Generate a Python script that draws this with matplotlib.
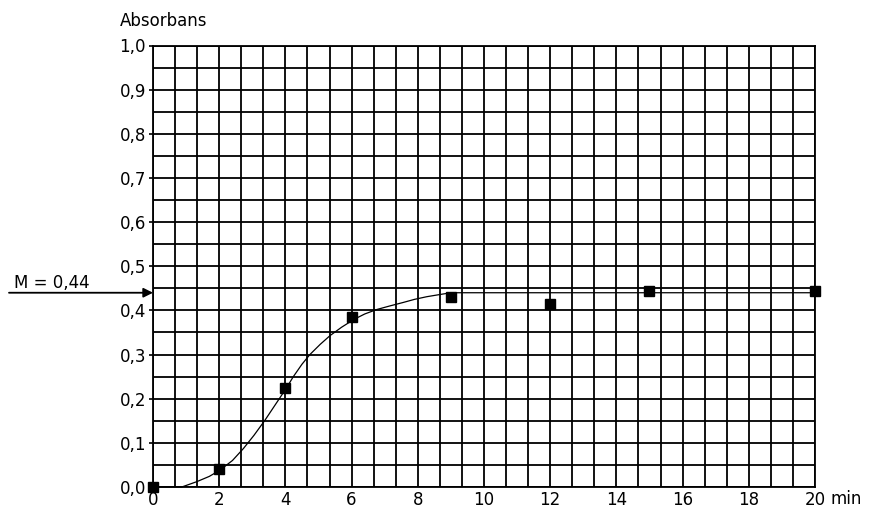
import numpy as np
import matplotlib.pyplot as plt

# measured points (min, absorbans)
time = [0, 2, 4, 6, 9, 12, 15, 20]
absorb = [0.0, 0.04, 0.225, 0.385, 0.43, 0.415, 0.445, 0.443]

# hand drawn curve
curve_t = [0, 0.87, 1.32, 1.7, 2.02, 2.4, 2.73, 3.05, 3.38, 3.7, 4.02, 4.24,
           4.5, 4.74, 5.05, 5.35, 5.7, 6.08, 6.4, 6.76, 7.15, 7.56, 7.9, 8.27,
           8.67, 9.0, 20]
curve_a = [0, 0, 0.012, 0.024, 0.038, 0.06, 0.087, 0.117, 0.151, 0.187, 0.223,
           0.25, 0.278, 0.3, 0.323, 0.343, 0.362, 0.38, 0.392, 0.402, 0.41,
           0.418, 0.425, 0.431, 0.436, 0.44, 0.44]

M = 0.44
x_ticks = [0, 2, 4, 6, 8, 10, 12, 14, 16, 18, 20]
y_ticks = [0.0, 0.1, 0.2, 0.3, 0.4, 0.5, 0.6, 0.7, 0.8, 0.9, 1.0]

plt.rcParams['font.family'] = 'DejaVu Sans'
fs = 12

fig = plt.figure(figsize=(8.7, 5.12), dpi=100)
ax = fig.add_axes([153 / 870, 1 - 487 / 512, (815 - 153) / 870, (487 - 45.5) / 512])

ax.set_xlim(0, 20)
ax.set_ylim(0, 1.0)

ax.set_xticks(x_ticks)
ax.set_xticklabels([str(v) for v in x_ticks], fontsize=fs)
ax.set_xticks(np.arange(0, 20.01, 2 / 3), minor=True)
ax.set_yticks(y_ticks)
ax.set_yticklabels([f"{v:.1f}".replace('.', ',') for v in y_ticks], fontsize=fs)
ax.set_yticks(np.arange(0, 1.001, 0.05), minor=True)

ax.tick_params(axis='x', which='both', length=0, pad=3)
ax.tick_params(axis='y', which='major', length=3, width=1.2, pad=2)
ax.tick_params(axis='y', which='minor', length=0)

ax.grid(which='both', color='black', lw=1.3)
ax.set_axisbelow(True)
for s in ax.spines.values():
    s.set_linewidth(1.3)

ax.plot(curve_t, curve_a, color='black', lw=0.9, clip_on=False, zorder=3)
ax.plot(time, absorb, 's', color='black', ms=6.5, clip_on=False, zorder=4)

# arrow marking M
ax.annotate('', xy=(0, M), xytext=(-144, 0), textcoords='offset pixels',
            arrowprops=dict(arrowstyle='-|>', color='black', lw=1.3,
                            mutation_scale=14, shrinkA=0, shrinkB=0),
            annotation_clip=False)
ax.annotate('M = 0,44', xy=(0, M), xytext=(-139, 1), textcoords='offset pixels',
            ha='left', va='bottom', fontsize=fs, annotation_clip=False)

fig.text(120 / 870, 1 - 26 / 512, 'Absorbans', fontsize=fs, va='baseline')
fig.text(831 / 870, 1 - 499 / 512, 'min', fontsize=fs, va='center')

fig.savefig('out.png', dpi=100)
